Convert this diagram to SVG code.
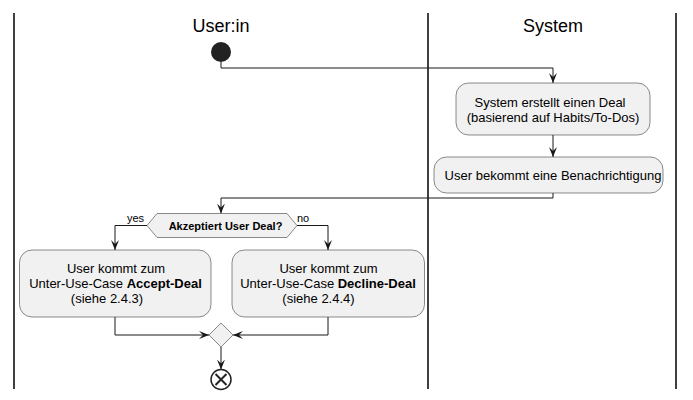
<svg xmlns="http://www.w3.org/2000/svg" width="693" height="400" viewBox="0 0 693 400">
<defs>
<marker id="arr" viewBox="0 0 10 8" refX="10" refY="4" markerWidth="10" markerHeight="8" orient="auto" markerUnits="userSpaceOnUse">
<path d="M0,0 L10,4 L0,8 L4,4 Z" fill="#181818"/>
</marker>
<style>
.lane{stroke:#000;stroke-width:1.5;}
.hdr{font-family:"Liberation Sans",Arial,sans-serif;font-size:18px;fill:#000;text-anchor:middle;}
.box{fill:#F1F1F1;stroke:#181818;stroke-width:0.5;}
.t{font-family:"Liberation Sans",Arial,sans-serif;font-size:13px;fill:#000;text-anchor:middle;}
.b{font-weight:bold;}
.lbl{font-family:"Liberation Sans",Arial,sans-serif;font-size:11px;fill:#000;}
.c{fill:none;stroke:#181818;stroke-width:1;marker-end:url(#arr);}
</style>
</defs>
<rect width="693" height="400" fill="#fff"/>
<g id="lanes">
<line class="lane" x1="14" y1="13" x2="14" y2="389"/>
<line class="lane" x1="428" y1="13" x2="428" y2="389"/>
<line class="lane" x1="676" y1="13" x2="676" y2="389"/>
<text class="hdr" x="221" y="32">User:in</text>
<text class="hdr" x="553" y="32">System</text>
</g>
<g id="connectors">
<path class="c" d="M221,62 V68 H553 V83"/>
<path class="c" d="M553,135 V157"/>
<path class="c" d="M553,193 V198 H221 V213.5"/>
<path class="c" d="M147,225.5 H115 V250"/>
<path class="c" d="M297,225.5 H328 V250"/>
<path class="c" d="M115,317 V335 H209"/>
<path class="c" d="M328,317 V335 H233"/>
<path class="c" d="M221,347 V369.5"/>
<text class="lbl" x="127" y="222">yes</text>
<text class="lbl" x="297" y="222">no</text>
</g>
<g id="start">
<circle cx="221" cy="52" r="10" fill="#222"/>
</g>
<g id="create-deal">
<rect class="box" x="456" y="83" width="194" height="52" rx="12.5"/>
<text class="t" x="550" y="106.5">System erstellt einen Deal</text>
<text class="t" x="553" y="121.7">(basierend auf Habits/To-Dos)</text>
</g>
<g id="notify">
<rect class="box" x="434" y="157" width="229" height="36" rx="12.5"/>
<text class="t" x="553" y="179.5">User bekommt eine Benachrichtigung</text>
</g>
<g id="decision">
<polygon class="box" points="147,225.5 157,213.5 287,213.5 297,225.5 287,237.5 157,237.5"/>
<text class="lbl b" x="225.5" y="229.5" text-anchor="middle">Akzeptiert User Deal?</text>
</g>
<g id="accept">
<rect class="box" x="19.5" y="250" width="191.5" height="67" rx="12.5"/>
<text class="t" x="116" y="272.5">User kommt zum</text>
<text class="t" x="115.5" y="287.7">Unter-Use-Case <tspan class="b">Accept-Deal</tspan></text>
<text class="t" x="107" y="302.9">(siehe 2.4.3)</text>
</g>
<g id="decline">
<rect class="box" x="232" y="250" width="192.5" height="67" rx="12.5"/>
<text class="t" x="328.5" y="272.5">User kommt zum</text>
<text class="t" x="328" y="287.7">Unter-Use-Case <tspan class="b">Decline-Deal</tspan></text>
<text class="t" x="318.5" y="302.9">(siehe 2.4.4)</text>
</g>
<g id="merge">
<polygon class="box" points="221,323 233,335 221,347 209,335"/>
</g>
<g id="end">
<circle cx="221" cy="379.5" r="10" fill="none" stroke="#222" stroke-width="1.5"/>
<path d="M215.5,374 L226.5,385 M226.5,374 L215.5,385" stroke="#222" stroke-width="2"/>
</g>
</svg>
